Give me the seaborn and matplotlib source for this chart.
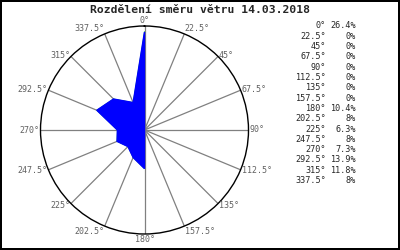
import numpy as np
import pandas as pd
import matplotlib
matplotlib.use("Agg")
import matplotlib.pyplot as plt
import seaborn as sns

directions = [0, 22.5, 45, 67.5, 90, 112.5, 135, 157.5, 180, 202.5, 225, 247.5, 270, 292.5, 315, 337.5]
dir_labels = ["0°", "22.5°", "45°", "67.5°", "90°", "112.5°", "135°", "157.5°",
              "180°", "202.5°", "225°", "247.5°", "270°", "292.5°", "315°", "337.5°"]
percent = [26.4, 0, 0, 0, 0, 0, 0, 0, 10.4, 8, 6.3, 8, 7.3, 13.9, 11.8, 8]
pct_labels = ["26.4%", "0%", "0%", "0%", "0%", "0%", "0%", "0%",
              "10.4%", "8%", "6.3%", "8%", "7.3%", "13.9%", "11.8%", "8%"]
title = "Rozdělení směru větru 14.03.2018"

sns.set_style("white")
plt.rcParams['font.family'] = ['DejaVu Sans Mono', 'DejaVu Sans']

fig = plt.figure(figsize=(4, 2.5), dpi=100)
fig.patch.set_facecolor("white")
fig.patch.set_edgecolor("black")
fig.patch.set_linewidth(1.5)

ax = fig.add_axes([0.1, 0.064, 0.5225, 0.832], projection="polar")
ax.set_theta_zero_location("N")
ax.set_theta_direction(-1)

RMAX = 28
theta = np.deg2rad(directions + [directions[0]])
rvals = percent + [percent[0]]
df = pd.DataFrame({"theta": theta, "r": rvals})
ax.fill(df["theta"], df["r"], color="#0000ff", zorder=3)
sns.lineplot(data=df, x="theta", y="r", sort=False, ax=ax, color="#00cc00",
             linewidth=0.6, zorder=2, estimator=None)

ax.set_ylim(0, RMAX)
ax.set_yticks([])
ax.set_xlabel("")
ax.set_ylabel("")
ax.set_thetagrids(directions, [""] * len(directions))
ax.grid(True, color="#808080", linewidth=0.9)
ax.spines["polar"].set_color("black")
ax.spines["polar"].set_linewidth(1)

for d, lab in zip(directions, dir_labels):
    s = np.sin(np.deg2rad(d))
    c = np.cos(np.deg2rad(d))
    if abs(s) < 1e-6:
        ha = "center"
    elif s > 0:
        ha = "left"
    else:
        ha = "right"
    if c > 0.9:
        va = "bottom"
    elif c < -0.9:
        va = "top"
    elif c < -0.6:
        va = "center_baseline"
    else:
        va = "center"
    ax.text(np.deg2rad(d), RMAX * 1.012, lab, ha=ha, va=va, fontsize=6,
            color="#606060", clip_on=False)

fig.text(0.5, 1 - 10 / 250, title, ha="center", va="center", fontsize=8.2, fontweight="bold")

y0 = 1 - 25.7 / 250
dy = 10.33 / 250
for i, (a, p) in enumerate(zip(dir_labels, pct_labels)):
    y = y0 - i * dy
    fig.text(326 / 400, y, a, ha="right", va="center", fontsize=6.1)
    fig.text(356 / 400, y, p, ha="right", va="center", fontsize=6.1)

fig.savefig("out.png", dpi=100, facecolor=fig.get_facecolor(), edgecolor=fig.get_edgecolor())
